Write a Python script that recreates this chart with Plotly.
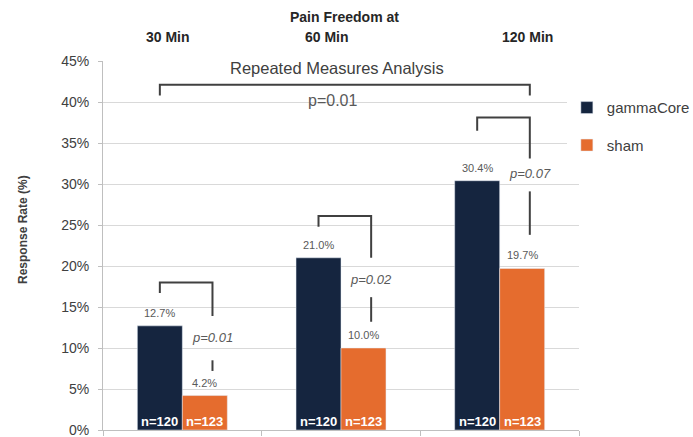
import plotly.graph_objects as go

# ---- data ----
categories = ["30 Min", "60 Min", "120 Min"]
gammacore = [12.7, 21.0, 30.4]
sham = [4.2, 10.0, 19.7]
n_gammacore = [120, 120, 120]
n_sham = [123, 123, 123]
p_values = ["p=0.01", "p=0.02", "p=0.07"]
overall_p = "p=0.01"
y_ticks = [0, 5, 10, 15, 20, 25, 30, 35, 40, 45]
y_tick_labels = [f"{v}%" for v in y_ticks]

# ---- styling / layout config ----
NAVY = "#15253F"
ORANGE = "#E56C2E"
DARK = "#404040"
BAR_W = 0.2835
FONT = "Liberation Sans, Arial, sans-serif"

# bracket geometry (y in axis units) per category
br_top = [18.0, 26.1, 38.1]
br_left_bottom = [16.7, 24.8, 36.5]
br_right_upper_bottom = [13.9, 21.0, 33.1]
br_text_y = [11.3, 18.3, 31.3]
br_lower_top = [8.5, 16.2, 29.1]
br_lower_bottom = [7.2, 13.2, 23.8]
BR_RIGHT_OFF = 0.19
big_top, big_bottom, big_text_y, big_title_y = 42.1, 40.8, 40.2, 44.1

xs = list(range(len(categories)))

fig = go.Figure()
fig.add_trace(go.Bar(x=xs, y=gammacore, name="gammaCore", marker_color=NAVY,
                     legendgroup="g", width=BAR_W, offset=-BAR_W))
fig.add_trace(go.Bar(x=xs, y=sham, name="sham", marker_color=ORANGE,
                     legendgroup="s", width=BAR_W, offset=0))

ann = []
shapes = []
line = dict(color=DARK, width=2)
for i in xs:
    gx = i - BAR_W / 2
    sx = i + BAR_W / 2
    rx = i + BR_RIGHT_OFF
    ann.append(dict(x=gx, y=gammacore[i], text=f"{gammacore[i]:.1f}%", showarrow=False,
                    yanchor="bottom", yshift=5, font=dict(size=11, color="#595959", family=FONT)))
    ann.append(dict(x=sx, y=sham[i], text=f"{sham[i]:.1f}%", showarrow=False,
                    yanchor="bottom", yshift=5, font=dict(size=11, color="#595959", family=FONT)))
    ann.append(dict(x=gx, y=0, text=f"<b>n={n_gammacore[i]}</b>", showarrow=False,
                    yanchor="bottom", yshift=-1, font=dict(size=13, color="white", family=FONT)))
    ann.append(dict(x=sx, y=0, text=f"<b>n={n_sham[i]}</b>", showarrow=False,
                    yanchor="bottom", yshift=-1, font=dict(size=13, color="white", family=FONT)))
    ann.append(dict(x=rx, y=br_text_y[i], text=f"<i>{p_values[i]}</i>", showarrow=False,
                    font=dict(size=13, color="#595959", family=FONT)))
    shapes.append(dict(type="path", xref="x", yref="y",
                       path=f"M {gx} {br_left_bottom[i]} L {gx} {br_top[i]} L {rx} {br_top[i]} L {rx} {br_right_upper_bottom[i]}",
                       line=line))
    shapes.append(dict(type="line", xref="x", yref="y", x0=rx, x1=rx,
                       y0=br_lower_bottom[i], y1=br_lower_top[i], line=line))

bx0 = xs[0] - BAR_W / 2
bx1 = xs[-1] + BR_RIGHT_OFF
shapes.append(dict(type="path", xref="x", yref="y",
                   path=f"M {bx0} {big_bottom} L {bx0} {big_top} L {bx1} {big_top} L {bx1} {big_bottom}",
                   line=line))
ann.append(dict(x=(bx0 + bx1) / 2 - 0.08, y=big_text_y, text=overall_p, showarrow=False,
                font=dict(size=16, color="#595959", family=FONT)))
ann.append(dict(x=(bx0 + bx1) / 2 - 0.05, y=big_title_y, text="Repeated Measures Analysis", showarrow=False,
                font=dict(size=16.5, color="#404040", family=FONT)))

ann.append(dict(xref="paper", yref="paper", x=0.508, y=1.119, xanchor="center", yanchor="middle",
                text="<b>Pain Freedom at</b>",
                showarrow=False, font=dict(size=14, color="#262626", family=FONT)))
top_label_x = [0.137, 0.47, 0.891]
for i, c in enumerate(categories):
    ann.append(dict(xref="paper", yref="paper", x=top_label_x[i], y=1.065, xanchor="center",
                    yanchor="middle", text=f"<b>{c}</b>",
                    showarrow=False, font=dict(size=14, color="#262626", family=FONT)))

ann.append(dict(xref="paper", yref="paper", x=-0.168, y=0.542, xanchor="center", yanchor="middle",
                text="<b>Response Rate (%)</b>",
                textangle=-90, showarrow=False, font=dict(size=12, color="#404040", family=FONT)))

fig.update_layout(
    width=693, height=437, autosize=False,
    margin=dict(l=103, r=114, t=61, b=7, autoexpand=False),
    plot_bgcolor="white", paper_bgcolor="white",
    barmode="overlay",
    showlegend=True,
    legend=dict(xref="container", yref="container", x=0.818, y=0.791, xanchor="left", yanchor="top",
                traceorder="grouped", tracegroupgap=15, itemwidth=30,
                font=dict(size=15, color="#404040", family=FONT)),
    annotations=ann, shapes=shapes,
    font=dict(family=FONT),
)
fig.update_xaxes(range=[-0.5, 2.5], tickvals=[-0.5, 0.5, 1.5, 2.5], ticktext=["", "", "", ""],
                 ticks="outside", ticklen=5, tickcolor="#BFBFBF", showgrid=False, automargin=False,
                 showline=True, linecolor="#BFBFBF", linewidth=1, zeroline=False)
fig.update_yaxes(range=[0, 45], tickvals=y_ticks, ticktext=y_tick_labels, ticks="outside", ticklen=4,
                 tickcolor="#BFBFBF", showgrid=True, gridcolor="#D9D9D9", gridwidth=1, automargin=False,
                 showline=True, linecolor="#BFBFBF", zeroline=False, ticklabeloverflow="allow",
                 tickfont=dict(size=14, color="#404040", family=FONT), ticklabelstandoff=6)

fig.write_html("out.html", config={"displayModeBar": False},
               post_script="document.body.style.margin='0';document.body.style.overflow='hidden';")
